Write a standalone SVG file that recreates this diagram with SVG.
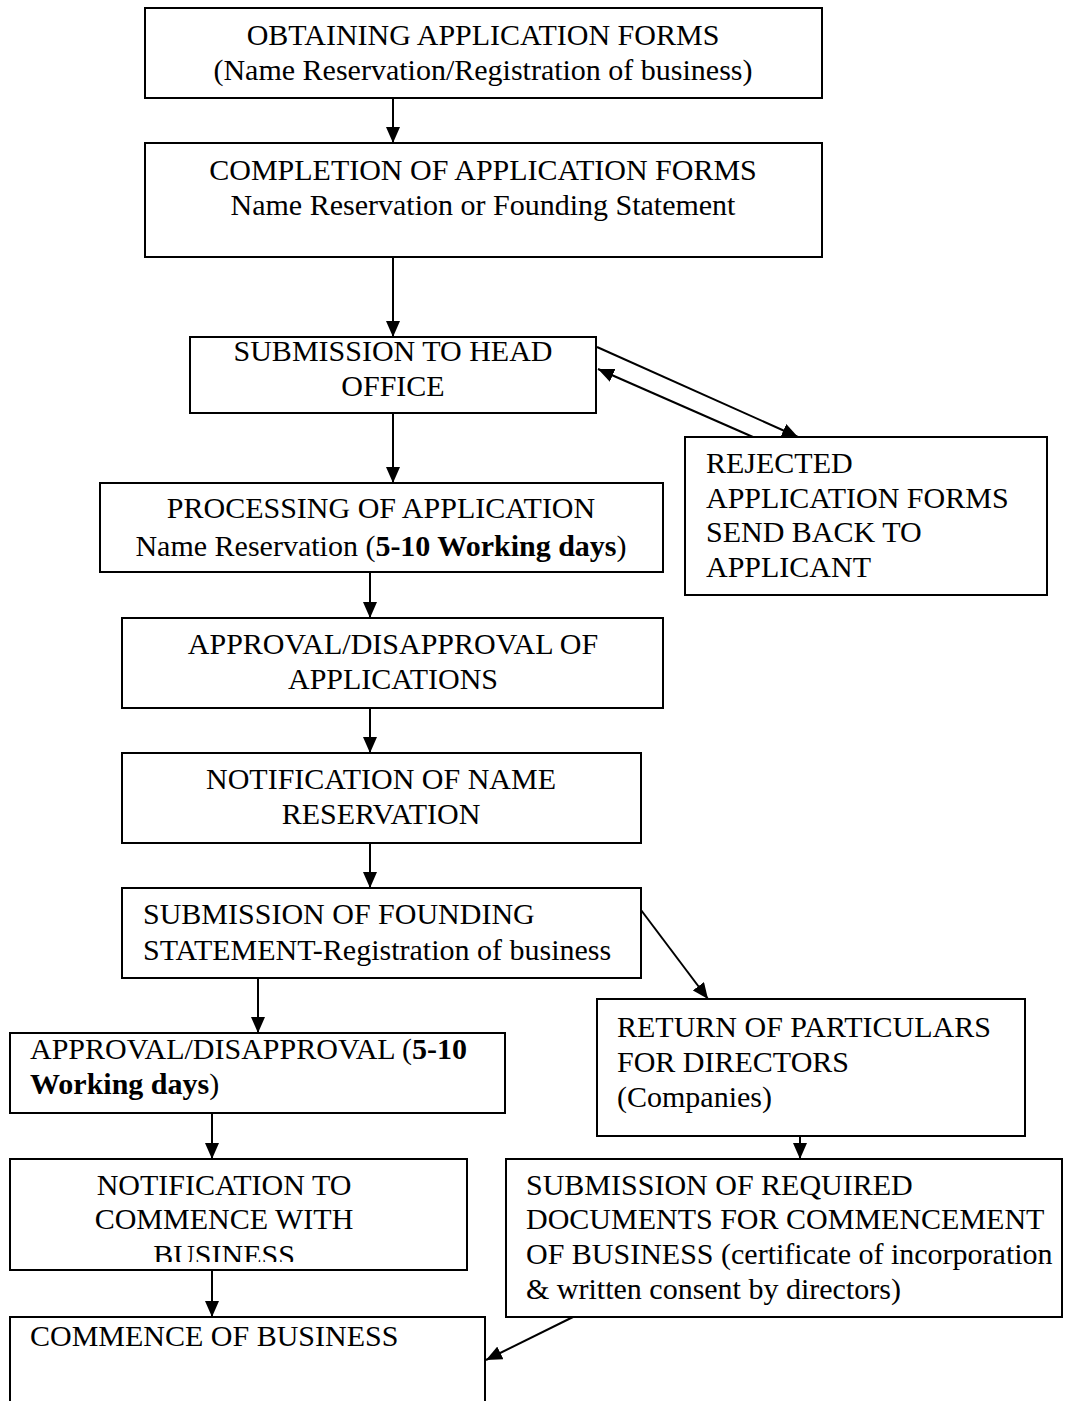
<svg xmlns="http://www.w3.org/2000/svg" width="1080" height="1401" viewBox="0 0 1080 1401">
<style>
.box{fill:#fff;stroke:#000;stroke-width:2}
text{font-family:"Liberation Serif","Times New Roman",serif;font-size:30px;fill:#000}
.c{text-anchor:middle}
.conn line{stroke:#000;stroke-width:2;marker-end:url(#ah)}
</style>
<defs>
<marker id="ah" viewBox="0 0 16 14" refX="16" refY="7" markerWidth="16" markerHeight="14" markerUnits="userSpaceOnUse" orient="auto">
<path d="M0,0 L16,7 L0,14 Z" fill="#000"/>
</marker>
<clipPath id="clipN"><rect x="10" y="1159" width="457" height="103"/></clipPath>
</defs>
<rect width="1080" height="1401" fill="#fff"/>
<g id="n1"><rect class="box" x="145" y="8" width="677" height="90"/>
<text class="c" x="483" y="45">OBTAINING APPLICATION FORMS</text>
<text class="c" x="483" y="80">(Name Reservation/Registration of business)</text></g>
<g id="n2"><rect class="box" x="145" y="143" width="677" height="114"/>
<text class="c" x="483" y="180">COMPLETION OF APPLICATION FORMS</text>
<text class="c" x="483" y="215">Name Reservation or Founding Statement</text></g>
<g id="n3"><rect class="box" x="190" y="337" width="406" height="76"/>
<text class="c" x="393" y="361">SUBMISSION TO HEAD</text>
<text class="c" x="393" y="396">OFFICE</text></g>
<g id="n4"><rect class="box" x="685" y="437" width="362" height="158"/>
<text x="706" y="473">REJECTED</text>
<text x="706" y="508">APPLICATION FORMS</text>
<text x="706" y="542">SEND BACK TO</text>
<text x="706" y="577">APPLICANT</text></g>
<g id="n5"><rect class="box" x="100" y="483" width="563" height="89"/>
<text class="c" x="381" y="518">PROCESSING OF APPLICATION</text>
<text class="c" x="381" y="556">Name Reservation (<tspan font-weight="bold">5-10 Working days</tspan>)</text></g>
<g id="n6"><rect class="box" x="122" y="618" width="541" height="90"/>
<text class="c" x="393" y="654">APPROVAL/DISAPPROVAL OF</text>
<text class="c" x="393" y="689">APPLICATIONS</text></g>
<g id="n7"><rect class="box" x="122" y="753" width="519" height="90"/>
<text class="c" x="381" y="789">NOTIFICATION OF NAME</text>
<text class="c" x="381" y="824">RESERVATION</text></g>
<g id="n8"><rect class="box" x="122" y="888" width="519" height="90"/>
<text x="143" y="924">SUBMISSION OF FOUNDING</text>
<text x="143" y="960">STATEMENT-Registration of business</text></g>
<g id="n9"><rect class="box" x="10" y="1033" width="495" height="80"/>
<text x="30" y="1059">APPROVAL/DISAPPROVAL (<tspan font-weight="bold">5-10</tspan></text>
<text x="30" y="1094" font-weight="bold">Working days<tspan font-weight="normal">)</tspan></text></g>
<g id="n10"><rect class="box" x="597" y="999" width="428" height="137"/>
<text x="617" y="1037">RETURN OF PARTICULARS</text>
<text x="617" y="1072">FOR DIRECTORS</text>
<text x="617" y="1107">(Companies)</text></g>
<g id="n11"><rect class="box" x="10" y="1159" width="457" height="111"/>
<g clip-path="url(#clipN)">
<text class="c" x="224" y="1195">NOTIFICATION TO</text>
<text class="c" x="224" y="1229">COMMENCE WITH</text>
<text class="c" x="224" y="1265">BUSINESS</text></g></g>
<g id="n12"><rect class="box" x="506" y="1159" width="556" height="158"/>
<text x="526" y="1195">SUBMISSION OF REQUIRED</text>
<text x="526" y="1229">DOCUMENTS FOR COMMENCEMENT</text>
<text x="526" y="1264">OF BUSINESS (certificate of incorporation</text>
<text x="526" y="1299">&amp; written consent by directors)</text></g>
<g id="n13"><rect class="box" x="10" y="1317" width="475" height="100"/>
<text x="30" y="1346">COMMENCE OF BUSINESS</text></g>
<g id="connectors" class="conn">
<line x1="393" y1="98" x2="393" y2="143"/>
<line x1="393" y1="257" x2="393" y2="337"/>
<line x1="393" y1="413" x2="393" y2="483"/>
<line x1="597" y1="347" x2="798" y2="437"/>
<line x1="753" y1="437" x2="598" y2="369"/>
<line x1="370" y1="572" x2="370" y2="618"/>
<line x1="370" y1="708" x2="370" y2="753"/>
<line x1="370" y1="843" x2="370" y2="888"/>
<line x1="258" y1="978" x2="258" y2="1033"/>
<line x1="641" y1="910" x2="708" y2="999"/>
<line x1="212" y1="1113" x2="212" y2="1159"/>
<line x1="800" y1="1136" x2="800" y2="1159"/>
<line x1="212" y1="1270" x2="212" y2="1317"/>
<line x1="573" y1="1317" x2="486" y2="1360"/>
</g>
</svg>
